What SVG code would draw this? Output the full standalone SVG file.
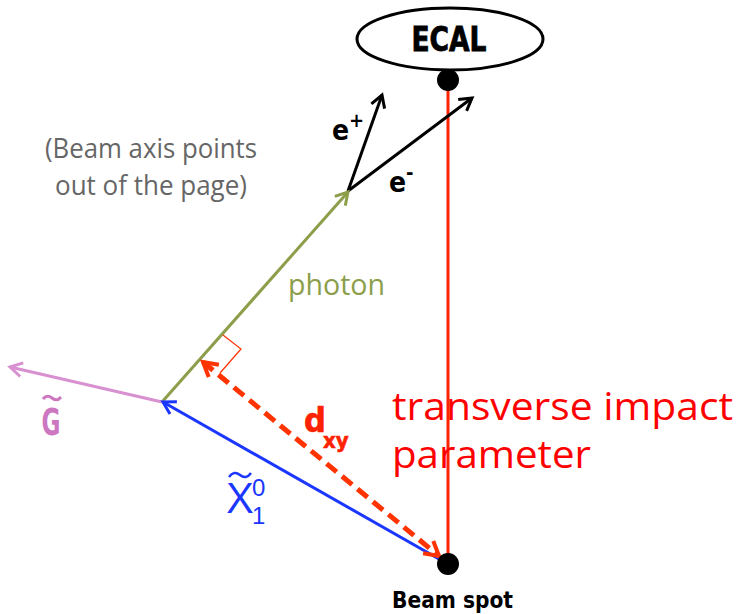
<svg xmlns="http://www.w3.org/2000/svg" width="737" height="614" viewBox="0 0 737 614">
<style>
.cond{font-family:"DejaVu Sans Condensed","DejaVu Sans",sans-serif;font-weight:bold}
.thin{font-family:"Open Sans","Liberation Sans",sans-serif}
.dig{font-family:"Liberation Sans",sans-serif}
</style>
<defs>
<marker id="ak" markerUnits="userSpaceOnUse" markerWidth="20" markerHeight="20" refX="14" refY="8" orient="auto" overflow="visible"><path d="M2,1 L14,8 L2,15" fill="none" stroke="#000" stroke-width="3"/></marker>
<marker id="ag" markerUnits="userSpaceOnUse" markerWidth="20" markerHeight="20" refX="14" refY="8" orient="auto" overflow="visible"><path d="M2,1 L14,8 L2,15" fill="none" stroke="#8c9e4a" stroke-width="3"/></marker>
<marker id="ab" markerUnits="userSpaceOnUse" markerWidth="20" markerHeight="20" refX="14" refY="8" orient="auto" overflow="visible"><path d="M2,1 L14,8 L2,15" fill="none" stroke="#1a36ff" stroke-width="3"/></marker>
<marker id="ap" markerUnits="userSpaceOnUse" markerWidth="20" markerHeight="20" refX="14" refY="8" orient="auto" overflow="visible"><path d="M2,1 L14,8 L2,15" fill="none" stroke="#d890d0" stroke-width="3"/></marker>
<marker id="ar" markerUnits="userSpaceOnUse" markerWidth="22" markerHeight="22" refX="16" refY="9" orient="auto-start-reverse" overflow="visible"><path d="M2,1 L16,9 L2,17" fill="none" stroke="#ff3300" stroke-width="4"/></marker>
</defs>

<g id="connectors">
<line x1="448" y1="80" x2="448" y2="564" stroke="#ff2200" stroke-width="3"/>
<line x1="348" y1="191" x2="382" y2="95" stroke="#000" stroke-width="3" marker-end="url(#ak)"/>
<line x1="348" y1="191" x2="472" y2="98" stroke="#000" stroke-width="3" marker-end="url(#ak)"/>
<line x1="162" y1="402" x2="348" y2="192" stroke="#8c9e4a" stroke-width="3" marker-end="url(#ag)"/>
<line x1="162" y1="402" x2="10" y2="367" stroke="#d890d0" stroke-width="3" marker-end="url(#ap)"/>
<line x1="446" y1="563" x2="163" y2="402" stroke="#1a36ff" stroke-width="3" marker-end="url(#ab)"/>
<line x1="203" y1="362" x2="439" y2="556" stroke="#ff3300" stroke-width="5" stroke-dasharray="13,7" marker-start="url(#ar)" marker-end="url(#ar)"/>
<polyline points="223,335 241,349 220,373" fill="none" stroke="#ff3300" stroke-width="1.2"/>
</g>

<g id="ecal">
<ellipse cx="450" cy="39" rx="93" ry="31" fill="#fff" stroke="#000" stroke-width="3"/>
<text x="449" y="51" class="cond" font-size="34" font-weight="900" stroke="#000" stroke-width="0.8" text-anchor="middle" textLength="75" lengthAdjust="spacingAndGlyphs">ECAL</text>
</g>

<g id="top-dot"><circle cx="448" cy="80" r="11" fill="#000"/></g>
<g id="beam-spot">
<circle cx="448" cy="564" r="11" fill="#000"/>
<text x="392" y="608" class="cond" font-size="23" textLength="121" lengthAdjust="spacingAndGlyphs">Beam spot</text>
</g>

<g id="eplus"><text x="332" y="140" class="cond" font-size="28">e<tspan font-size="20" dy="-13">+</tspan></text></g>
<g id="eminus"><text x="389" y="192" class="cond" font-size="28">e<tspan font-size="20" dy="-13">-</tspan></text></g>

<g id="note">
<text x="151" y="158" class="thin" font-size="27" fill="#666" text-anchor="middle" textLength="212" lengthAdjust="spacingAndGlyphs">(Beam axis points</text>
<text x="151" y="195" class="thin" font-size="27" fill="#666" text-anchor="middle" textLength="192" lengthAdjust="spacingAndGlyphs">out of the page)</text>
</g>

<g id="photon-label"><text x="288" y="295" class="thin" font-size="30" fill="#8c9e4a" textLength="97" lengthAdjust="spacingAndGlyphs">photon</text></g>

<g id="gravitino-label">
<text x="51" y="435" class="cond" font-size="38" fill="#cc77c0" text-anchor="middle" textLength="19" lengthAdjust="spacingAndGlyphs">G</text>
<path d="M43,399 q4,-5 9,-1 t9,-1" fill="none" stroke="#cc77c0" stroke-width="3"/>
</g>

<g id="neutralino-label">
<text x="227" y="513" class="thin" font-size="42" fill="#1a36ff" textLength="26" lengthAdjust="spacingAndGlyphs">X</text>
<path d="M229,477 q5,-7 11,-2 t11,-2" fill="none" stroke="#1a36ff" stroke-width="2.5"/>
<text x="252" y="496" class="dig" font-size="24" fill="#1a36ff">0</text>
<text x="252" y="524" class="dig" font-size="24" fill="#1a36ff">1</text>
</g>

<g id="dxy-label">
<text x="304" y="432" class="cond" font-size="34" fill="#ff2200" stroke="#ff2200" stroke-width="0.6">d<tspan x="323" y="448" font-size="22">xy</tspan></text>
</g>

<g id="tip-label">
<text x="392" y="420" class="thin" font-size="38" fill="#ff0000" textLength="341" lengthAdjust="spacingAndGlyphs">transverse impact</text>
<text x="392" y="468" class="thin" font-size="38" fill="#ff0000" textLength="199" lengthAdjust="spacingAndGlyphs">parameter</text>
</g>
</svg>
